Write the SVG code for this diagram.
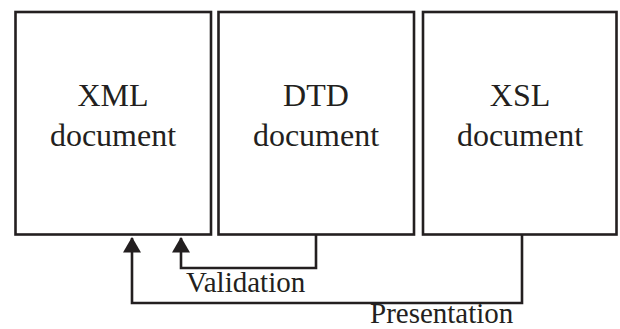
<svg xmlns="http://www.w3.org/2000/svg" width="620" height="329" viewBox="0 0 620 329">
  <style>
    .box { fill: #ffffff; stroke: #231f20; stroke-width: 2.6; }
    .title { font-family: "Liberation Serif", "Times New Roman", serif; font-size: 32px; fill: #231f20; text-anchor: middle; }
    .label { font-family: "Liberation Serif", "Times New Roman", serif; font-size: 29px; fill: #231f20; }
    .wire { fill: none; stroke: #231f20; stroke-width: 2.6; stroke-linejoin: miter; }
  </style>
  <defs>
    <marker id="arrowhead" markerWidth="6" markerHeight="7" refX="5.6" refY="3.5" orient="auto" markerUnits="strokeWidth">
      <path d="M0,0 L6,3.5 L0,7 Z" fill="#231f20"/>
    </marker>
  </defs>
  <rect width="620" height="329" fill="#ffffff"/>

  <g id="xml-document">
    <rect class="box" x="15.5" y="12" width="195.5" height="222.5"/>
    <text class="title" x="113" y="106">XML</text>
    <text class="title" x="113" y="146">document</text>
  </g>

  <g id="dtd-document">
    <rect class="box" x="218.5" y="12" width="195.5" height="222.5"/>
    <text class="title" x="316" y="106">DTD</text>
    <text class="title" x="316" y="146">document</text>
  </g>

  <g id="xsl-document">
    <rect class="box" x="423" y="12" width="193.5" height="222.5"/>
    <text class="title" x="520" y="106">XSL</text>
    <text class="title" x="520" y="146">document</text>
  </g>

  <g id="connectors">
    <path class="wire" d="M316,235 V268 H181 V238" marker-end="url(#arrowhead)"/>
    <path class="wire" d="M522,235 V303 H132 V238" marker-end="url(#arrowhead)"/>
    <text class="label" x="186" y="292">Validation</text>
    <text class="label" x="370" y="322.5">Presentation</text>
  </g>
</svg>
